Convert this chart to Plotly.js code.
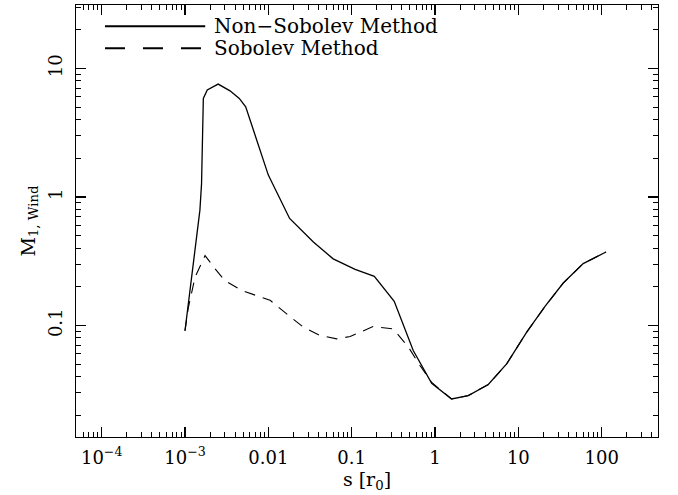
<!DOCTYPE html>
<html>
<head>
<meta charset="utf-8">
<script src="https://cdn.plot.ly/plotly-3.0.1.min.js"></script>
<style>html,body{margin:0;padding:0;background:#fff;}#plot{width:678px;height:495px;}</style>
</head>
<body>
<div id="plot"></div>
<script>
// Non-Sobolev method (solid)
const nonSobolevS = [1.0e-3, 1.51e-3, 1.58e-3, 1.66e-3, 1.85e-3, 2.5e-3, 3.47e-3, 4.48e-3, 5.35e-3, 0.01, 0.018, 0.0347, 0.06, 0.11, 0.187, 0.324, 0.548, 0.912, 1.58, 2.51, 4.36, 7.24, 12.6, 20.9, 34.6, 60, 112.7];
const nonSobolevM = [0.091, 0.79, 1.27, 5.85, 6.8, 7.56, 6.7, 5.85, 5.03, 1.48, 0.68, 0.446, 0.33, 0.273, 0.241, 0.154, 0.0638, 0.0355, 0.0268, 0.0285, 0.0347, 0.0502, 0.0887, 0.1406, 0.214, 0.303, 0.373];
// Sobolev method (dashed)
const sobolevS = [1.0e-3, 1.09e-3, 1.32e-3, 1.74e-3, 2.29e-3, 3.0e-3, 4.8e-3, 0.0105, 0.0166, 0.0263, 0.0417, 0.066, 0.096, 0.18, 0.316, 0.479, 0.66, 0.912, 1.58, 2.51, 4.36, 7.24, 12.6, 20.9, 34.6, 60, 112.7];
const sobolevM = [0.091, 0.135, 0.238, 0.35, 0.277, 0.224, 0.187, 0.157, 0.123, 0.097, 0.0836, 0.0787, 0.082, 0.098, 0.094, 0.068, 0.0488, 0.036, 0.0268, 0.0285, 0.0347, 0.0502, 0.0887, 0.1406, 0.214, 0.303, 0.373];

const seriesNames = ['Non\u2212Sobolev Method', 'Sobolev Method'];
const xTickVals = [1e-4, 1e-3, 0.01, 0.1, 1, 10, 100];
const xTickText = ['10<sup>\u22124</sup>', '10<sup>\u22123</sup>', '0.01', '0.1', '1', '10', '100'];
const yTickVals = [0.1, 1, 10];
const yTickText = ['0.1', '1', '10'];

function minorTicks(fromExp, toExp, maxVal) {
  const out = [];
  for (let e = fromExp; e <= toExp; e++) {
    for (let k = 2; k <= 9; k++) {
      const v = k * Math.pow(10, e);
      if (v <= maxVal) out.push(v);
    }
  }
  return out;
}

const FONT = 'DejaVu Serif, serif';

const traces = [
  {x: nonSobolevS, y: nonSobolevM, type: 'scatter', mode: 'lines', name: seriesNames[0],
   line: {color: 'black', width: 1.3}},
  {x: sobolevS, y: sobolevM, type: 'scatter', mode: 'lines', name: seriesNames[1],
   line: {color: 'black', width: 1.1, dash: '11px,8px'}}
];

const axisCommon = {
  type: 'log', showgrid: false, zeroline: false, showline: true, linecolor: 'black', linewidth: 1.3,
  mirror: 'allticks', ticks: 'inside', ticklen: 10, tickwidth: 1.2, tickcolor: 'black',
  tickmode: 'array', tickfont: {family: FONT, size: 18, color: 'black'}
};

const layout = {
  width: 678, height: 495,
  margin: {l: 76, r: 20, t: 5, b: 58},
  paper_bgcolor: 'white', plot_bgcolor: 'white',
  showlegend: false,
  font: {family: FONT, color: 'black'},
  xaxis: Object.assign({}, axisCommon, {
    range: [-4.308, 2.676], tickvals: xTickVals, ticktext: xTickText,
    ticklabelstandoff: 4,
    minor: {tickmode: 'array', tickvals: minorTicks(-5, 2, 1000), ticks: 'inside', ticklen: 5, tickwidth: 1, tickcolor: 'black', showgrid: false},
    title: {text: 's [r<sub>0</sub>]', font: {family: FONT, size: 19, color: 'black'}, standoff: 2}
  }),
  yaxis: Object.assign({}, axisCommon, {
    range: [-1.868, 1.494], tickvals: yTickVals, ticktext: yTickText, tickangle: -90,
    ticklabelstandoff: 6,
    minor: {tickmode: 'array', tickvals: minorTicks(-2, 1, 40), ticks: 'inside', ticklen: 5, tickwidth: 1, tickcolor: 'black', showgrid: false},
    title: {text: 'M<sub>1, Wind</sub>', font: {family: FONT, size: 19, color: 'black'}, standoff: 4}
  }),
  shapes: [
    {type: 'line', xref: 'paper', yref: 'paper', x0: 0.0498, x1: 0.222, y0: 0.951, y1: 0.951, line: {color: 'black', width: 2}},
    {type: 'line', xref: 'paper', yref: 'paper', x0: 0.0498, x1: 0.22, y0: 0.90, y1: 0.90, line: {color: 'black', width: 2, dash: '20px,18px'}}
  ],
  annotations: [
    {xref: 'paper', yref: 'paper', x: 0.234, y: 0.951, xanchor: 'left', yanchor: 'middle', showarrow: false,
     text: seriesNames[0], font: {family: FONT, size: 20, color: 'black'}},
    {xref: 'paper', yref: 'paper', x: 0.234, y: 0.90, xanchor: 'left', yanchor: 'middle', showarrow: false,
     text: seriesNames[1], font: {family: FONT, size: 20, color: 'black'}}
  ]
};

Plotly.newPlot('plot', traces, layout, {displayModeBar: false, staticPlot: true});
</script>
</body>
</html>
